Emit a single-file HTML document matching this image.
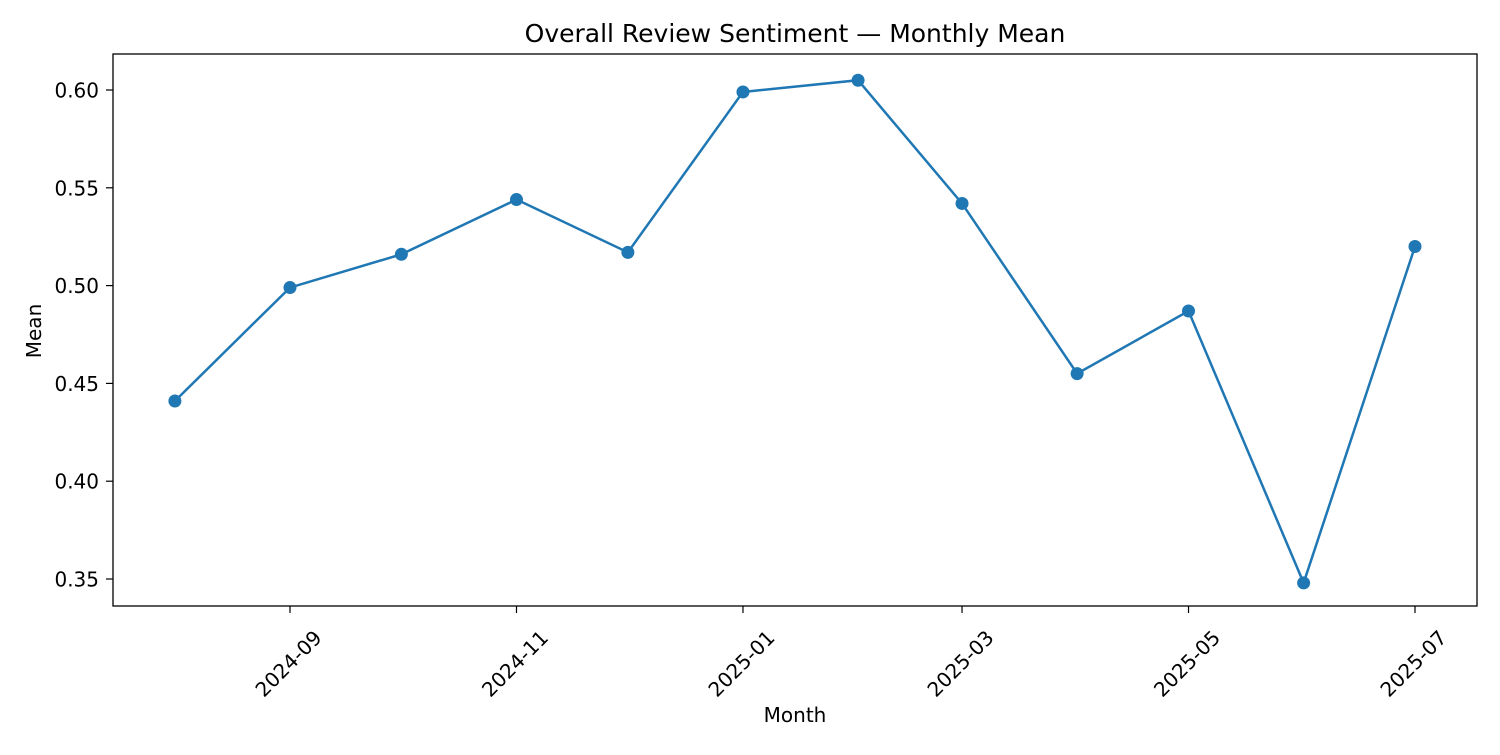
<!DOCTYPE html>
<html><head><meta charset="utf-8"><style>
body{margin:0;background:#fff;}
svg text{font-family:"DejaVu Sans","Liberation Sans",sans-serif;fill:#000;}
</style></head><body>
<svg id="chart" width="1500" height="750" xmlns="http://www.w3.org/2000/svg">
<rect width="1500" height="750" fill="#fff"/>
<text x="795" y="42" font-size="25" text-anchor="middle">Overall Review Sentiment — Monthly Mean</text>
<text x="795" y="722" font-size="20" text-anchor="middle">Month</text>
<text transform="translate(41,331) rotate(-90)" font-size="20" text-anchor="middle">Mean</text>
<g id="axes"></g>
<g id="series"></g>
<rect x="113" y="54" width="1364" height="552" fill="none" stroke="#000" stroke-width="1.3"/>
</svg>
<script>
const months = ["2024-08","2024-09","2024-10","2024-11","2024-12","2025-01","2025-02","2025-03","2025-04","2025-05","2025-06","2025-07"];
const meanValues = [0.441,0.499,0.516,0.544,0.517,0.599,0.605,0.542,0.455,0.487,0.348,0.520];
const yTicks = [0.35,0.40,0.45,0.50,0.55,0.60];
const xTickLabels = ["2024-09","2024-11","2025-01","2025-03","2025-05","2025-07"];

const NS="http://www.w3.org/2000/svg";
function mk(t,a,p){const e=document.createElementNS(NS,t);for(const k in a)e.setAttribute(k,a[k]);p.appendChild(e);return e;}
const d0=Date.UTC(2024,8,1), d1=Date.UTC(2025,6,1);
function dayOf(s){const [y,m]=s.split("-").map(Number);return Date.UTC(y,m-1,1);}
function xs(s){return 290+(dayOf(s)-d0)/(d1-d0)*1125;}
function ys(v){return 90+(0.60-v)/0.05*97.8;}
const axes=document.getElementById("axes"), series=document.getElementById("series");
yTicks.forEach(v=>{
  const y=ys(v);
  const l=mk("line",{x1:106,x2:113,y1:y,y2:y,stroke:"#000","stroke-width":1.2},axes);
  
  
  const t=mk("text",{x:99,y:y+7.5,"font-size":20,"text-anchor":"end"},axes);
  t.textContent=v.toFixed(2);
  
  
});
xTickLabels.forEach(s=>{
  const x=xs(s);
  const l=mk("line",{x1:x,x2:x,y1:606,y2:613,stroke:"#000","stroke-width":1.2},axes);
  
  
  const t=mk("text",{transform:`translate(${x+33},${639}) rotate(-45)`,"font-size":20,"text-anchor":"end"},axes);
  t.textContent=s;
  
  
});
const pts=months.map((m,i)=>[xs(m),ys(meanValues[i])]);
const pl=mk("polyline",{points:pts.map(p=>p.join(",")).join(" "),fill:"none",stroke:"#1f77b4","stroke-width":2.5},series);


pts.forEach(p=>{
  const c=mk("circle",{cx:p[0],cy:p[1],r:6.5,fill:"#1f77b4"},series);
  
  
});
</script>
</body></html>
